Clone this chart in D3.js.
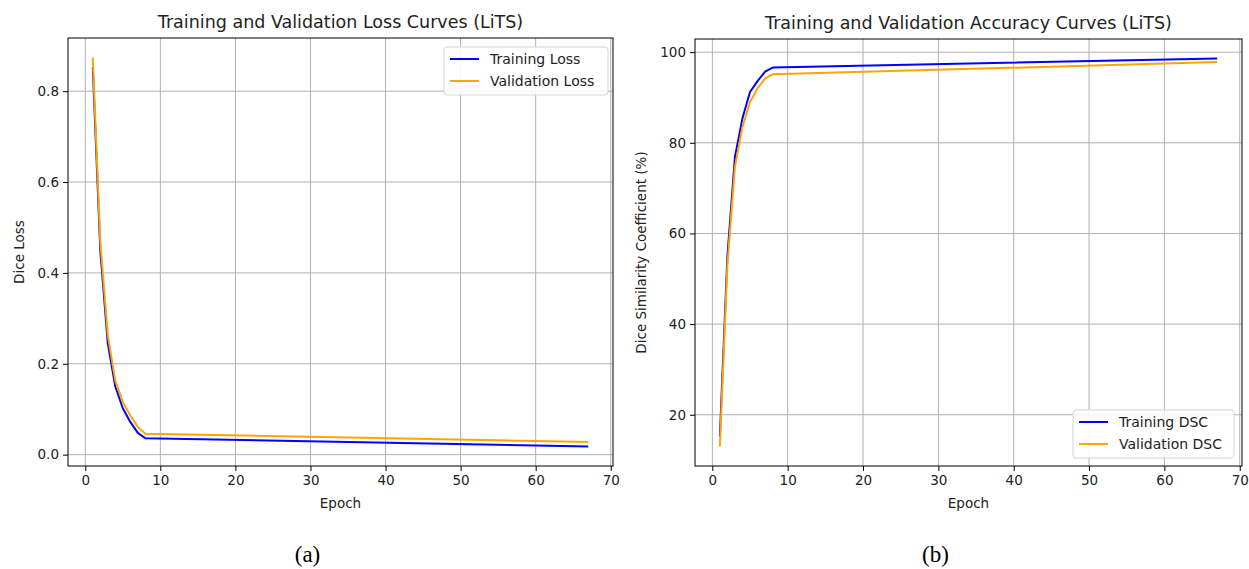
<!DOCTYPE html>
<html>
<head>
<meta charset="utf-8">
<script src="https://cdn.jsdelivr.net/npm/d3@7"></script>
<style>
  body { margin: 0; background: #fff; }
  svg { display: block; font-family: "DejaVu Sans", sans-serif; }
</style>
</head>
<body>
<div id="chart"></div>
<script>
// epochs where the curves bend; after epoch 8 both curves run straight to 67
const epochs = [1, 2, 3, 4, 5, 6, 7, 8, 67]

const trainLoss = [0.853, 0.45, 0.245, 0.15, 0.102, 0.072, 0.048, 0.036, 0.018]
const valLoss = [0.874, 0.47, 0.263, 0.163, 0.116, 0.086, 0.061, 0.046, 0.028]

const trainDSC = [15.2, 55, 76.9, 85.4, 91.2, 93.6, 95.7, 96.6, 98.6]
const valDSC = [13.0, 53, 74.7, 83.5, 89.0, 92.0, 94.2, 95.1, 97.8]

const xTicks = [0, 10, 20, 30, 40, 50, 60, 70]
const lossTicks = [0.0, 0.2, 0.4, 0.6, 0.8]
const dscTicks = [20, 40, 60, 80, 100]

const width = 1249, height = 569

const svg = d3.select("#chart").append("svg")
  .attr("width", width)
  .attr("height", height)

svg.append("rect").attr("width", width).attr("height", height).attr("fill", "#fff")

function drawPanel({left, right, top, bottom, yDomain, yTicks, yFormat, title, ylabel, ylabelOffset, series, legend, caption}) {
  const x = d3.scaleLinear().domain([-2.3, 70.3]).range([left, right])
  const y = d3.scaleLinear().domain(yDomain).range([bottom, top])
  const g = svg.append("g")

  /* grid */
  g.append("g").selectAll("line").data(xTicks).join("line")
    .attr("x1", d => x(d)).attr("x2", d => x(d))
    .attr("y1", top).attr("y2", bottom)
    .attr("stroke", "#b0b0b0").attr("stroke-width", 1)
  g.append("g").selectAll("line").data(yTicks).join("line")
    .attr("x1", left).attr("x2", right)
    .attr("y1", d => y(d)).attr("y2", d => y(d))
    .attr("stroke", "#b0b0b0").attr("stroke-width", 1)

  /* lines */
  const line = d3.line().x((d, i) => x(epochs[i])).y(d => y(d))
  for (const s of series) {
    g.append("path")
      .datum(s.values)
      .attr("d", line)
      .attr("fill", "none")
      .attr("stroke", s.color)
      .attr("stroke-width", 2)
      .attr("stroke-linejoin", "round")
  }

  /* axes */
  const xAxis = g.append("g")
    .attr("transform", `translate(0,${bottom})`)
    .call(d3.axisBottom(x).tickValues(xTicks).tickSize(5).tickPadding(4).tickFormat(d3.format("d")))
  const yAxis = g.append("g")
    .attr("transform", `translate(${left},0)`)
    .call(d3.axisLeft(y).tickValues(yTicks).tickSize(5).tickPadding(4).tickFormat(yFormat))
  for (const a of [xAxis, yAxis]) {
    a.select(".domain").remove()
    a.selectAll("text").attr("font-size", 13.5).attr("fill", "#222").attr("font-family", "DejaVu Sans")
    a.selectAll("line").attr("stroke", "#000")
  }

  /* frame */
  g.append("rect")
    .attr("x", left).attr("y", top)
    .attr("width", right - left).attr("height", bottom - top)
    .attr("fill", "none").attr("stroke", "#000").attr("stroke-width", 1)

  /* texts */
  g.append("text")
    .attr("x", (left + right) / 2).attr("y", top - 10)
    .attr("text-anchor", "middle").attr("font-size", 17.5).attr("fill", "#222")
    .text(title)
  g.append("text")
    .attr("x", (left + right) / 2).attr("y", bottom + 42)
    .attr("text-anchor", "middle").attr("font-size", 13.5).attr("fill", "#222")
    .text("Epoch")
  g.append("text")
    .attr("transform", `translate(${left - ylabelOffset},${(top + bottom) / 2}) rotate(-90)`)
    .attr("text-anchor", "middle").attr("font-size", 13.5).attr("fill", "#222")
    .text(ylabel)
  g.append("text")
    .attr("x", (left + right) / 2 - 33).attr("y", 562)
    .attr("text-anchor", "middle").attr("font-size", 23)
    .attr("font-family", "Liberation Serif").attr("fill", "#000")
    .text(caption)

  /* legend */
  const lg = g.append("g").attr("transform", `translate(${legend.x},${legend.y})`)
  lg.append("rect")
    .attr("width", legend.w).attr("height", 48).attr("rx", 3)
    .attr("fill", "#fff").attr("fill-opacity", 0.85)
    .attr("stroke", "#d5d5d5")
  series.forEach((s, i) => {
    const yy = 12 + i * 22
    lg.append("line")
      .attr("x1", 6).attr("x2", 35).attr("y1", yy).attr("y2", yy)
      .attr("stroke", s.color).attr("stroke-width", 2)
    lg.append("text")
      .attr("x", 46).attr("y", yy + 5)
      .attr("font-size", 14).attr("fill", "#222")
      .text(s.name)
  })
}

drawPanel({
  left: 68, right: 613, top: 38, bottom: 466,
  yDomain: [-0.025, 0.917], yTicks: lossTicks, yFormat: d3.format(".1f"),
  title: "Training and Validation Loss Curves (LiTS)",
  ylabel: "Dice Loss", ylabelOffset: 44,
  series: [
    {name: "Training Loss", values: trainLoss, color: "blue"},
    {name: "Validation Loss", values: valLoss, color: "orange"}
  ],
  legend: {x: 444, y: 47, w: 164},
  caption: "(a)"
})

drawPanel({
  left: 695, right: 1242, top: 39, bottom: 466,
  yDomain: [8.7, 102.9], yTicks: dscTicks, yFormat: d3.format("d"),
  title: "Training and Validation Accuracy Curves (LiTS)",
  ylabel: "Dice Similarity Coefficient (%)", ylabelOffset: 49,
  series: [
    {name: "Training DSC", values: trainDSC, color: "blue"},
    {name: "Validation DSC", values: valDSC, color: "orange"}
  ],
  legend: {x: 1073, y: 410, w: 161},
  caption: "(b)"
})
</script>
</body>
</html>
